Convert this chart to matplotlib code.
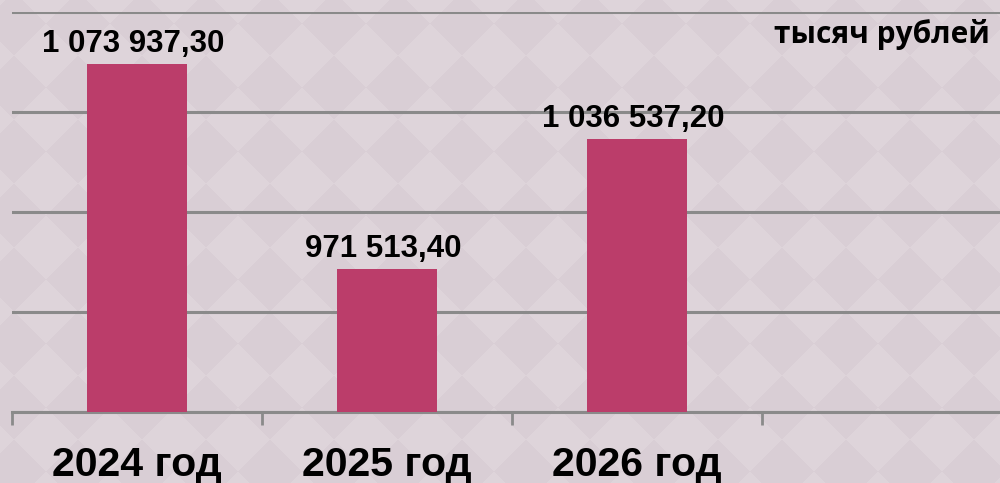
import numpy as np
import matplotlib
matplotlib.use("Agg")
import matplotlib.pyplot as plt
from matplotlib.transforms import blended_transform_factory

categories = ["2024 год", "2025 год", "2026 год"]
values = [1073937.30, 971513.40, 1036537.20]
value_labels = ["1 073 937,30", "971 513,40", "1 036 537,20"]
unit_label = "тысяч рублей"

W, H, DPI = 1000, 483, 100
fig = plt.figure(figsize=(W / DPI, H / DPI), dpi=DPI)

# background diamond pattern (decorative)
bg = fig.add_axes([0, 0, 1, 1], zorder=-10)
yy, xx = np.mgrid[0:H, 0:W]
d = 64.0
u = np.floor((xx - 782 + yy - 279 + d / 2) / d)
v = np.floor((xx - 782 - (yy - 279) + d / 2) / d)
chk = ((u + v) % 2).astype(float)
light = np.array([222, 212, 218]) / 255
dark = np.array([217, 206, 213]) / 255
img = light[None, None, :] * chk[..., None] + dark[None, None, :] * (1 - chk[..., None])
bg.imshow(img, aspect="auto", interpolation="nearest")
bg.axis("off")

ax = fig.add_axes([12 / W, (H - 412) / H, 1000 / W, 400 / H])
ax.set_facecolor("none")
x = np.arange(len(categories))
ax.bar(x, values, width=0.4, color="#bb3d6a", zorder=3)
ax.set_xlim(-0.5, 3.5)
ax.set_ylim(900000, 1100000)
ax.set_yticks(np.arange(900000, 1100001, 50000))
ax.yaxis.grid(True, color="#8a8a8a", linewidth=2.2, zorder=1)
ax.tick_params(axis="y", left=False, labelleft=False)
for s in ["left", "right", "top"]:
    ax.spines[s].set_visible(False)
ax.spines["bottom"].set_color("#8a8a8a")
ax.spines["bottom"].set_linewidth(2.2)

ax.set_xticks([-0.5, 0.5, 1.5, 2.5, 3.5])
ax.set_xticklabels([])
ax.tick_params(axis="x", length=9, width=2, color="#8a8a8a", direction="out")

tr = blended_transform_factory(ax.transData, fig.transFigure)
for xi, cat in zip(x, categories):
    ax.text(xi, 1 - 476 / H, cat, transform=tr, ha="center", va="baseline",
            fontsize=29.5, fontweight="bold", family="Liberation Sans")

for xi, val, lab in zip(x, values, value_labels):
    ax.annotate(lab, (xi, val), xytext=(-3, 8.6), textcoords="offset points",
                ha="center", va="baseline", fontsize=22.5, fontweight="bold",
                family="Liberation Sans", zorder=4)

fig.text(990 / W, 1 - 43 / H, unit_label, ha="right", va="baseline",
         fontsize=21.5, fontweight="bold", family="Open Sans")

fig.savefig("out.png", dpi=DPI)
